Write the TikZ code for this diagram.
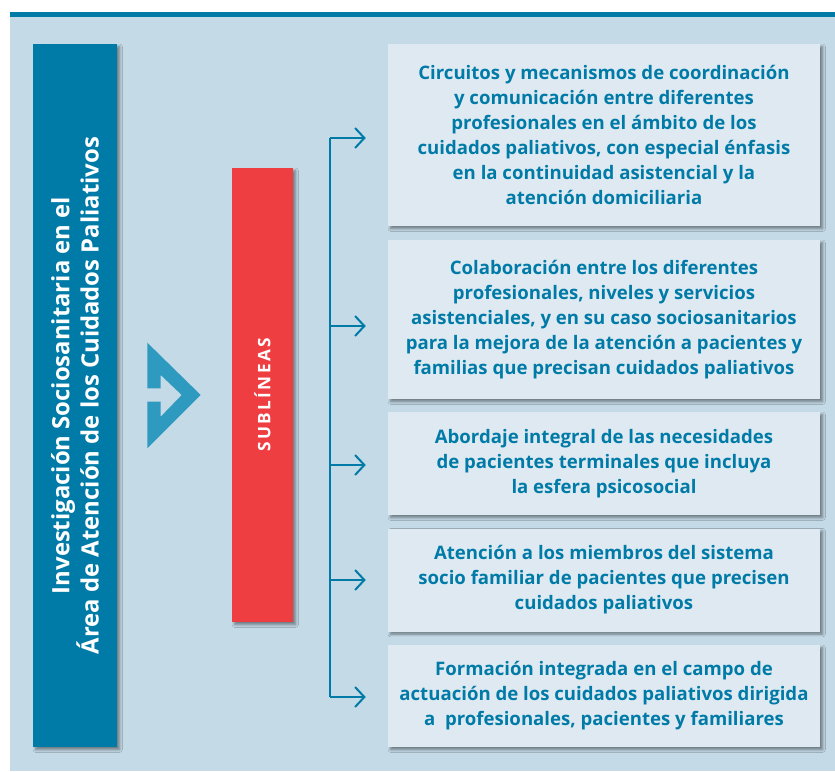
\documentclass[tikz,border=0pt]{standalone}
\usepackage{fontspec}
\setmainfont{Open Sans}
\usetikzlibrary{arrows.meta,shadows.blur}

\definecolor{deepteal}{RGB}{0,123,167}
\definecolor{panelblue}{RGB}{196,218,231}
\definecolor{paleblue}{RGB}{223,233,242}
\definecolor{subred}{RGB}{239,62,66}
\definecolor{chevblue}{RGB}{46,154,192}

\tikzset{
  linebox/.style={fill=paleblue, text=deepteal, align=center, inner sep=0pt,
    minimum width=324pt, font=\bfseries\fontsize{13.95}{18.75}\selectfont,
    blur shadow={shadow xshift=2pt, shadow yshift=-2pt, shadow blur steps=6, shadow blur radius=2pt, shadow opacity=45}},
  feed/.style={deepteal, line width=1.5pt, -{Straight Barb[length=7pt,width=15pt,line width=1.5pt]}, shorten >=16.5pt},
}

\begin{document}
\begin{tikzpicture}[x=0.75pt,y=0.75pt,yscale=-1,xscale=1]
\useasboundingbox (0,0) rectangle (835,771);

%Shape: Background panel
\fill [panelblue] (10,17) rectangle (835,771);
%Shape: Top rule
\fill [deepteal] (10,12) rectangle (835,17);

%Shape: Main area box
\node [rotate=90, fill=deepteal, text=white, align=center, inner sep=0pt,
  minimum width=527.25pt, minimum height=63pt,
  font=\bfseries\fontsize{17.9}{18.5}\selectfont,
  blur shadow={shadow xshift=2pt, shadow yshift=-2pt, shadow blur steps=6, shadow blur radius=2pt, shadow opacity=45}]
  (area) at (75,395.5) {Investigación Sociosanitaria en el\\Área de Atención de los Cuidados Paliativos};

%Shape: Chevron
\fill [chevblue] (147.3,342.7) -- (200.7,395) -- (147.3,448.3) -- (147.3,401.7) -- (160.7,401.7) -- (160.7,416.7) -- (181.7,395) -- (160.7,375) -- (160.7,388.3) -- (147.3,388.3) -- cycle ;

%Shape: Sublineas bar
\node [rotate=90, fill=subred, text=white, inner sep=0pt,
  minimum width=340.5pt, minimum height=45.75pt,
  font=\bfseries\fontsize{12.9}{14}\selectfont\addfontfeature{LetterSpace=14},
  blur shadow={shadow xshift=2pt, shadow yshift=-2pt, shadow blur steps=6, shadow blur radius=2pt, shadow opacity=45}]
  (sub) at (262.5,395) {SUBLÍNEAS};

% Text Nodes
\node [linebox, minimum height=136.5pt] (circ) at (604,135) {Circuitos y mecanismos de coordinación\\y comunicación entre diferentes\\profesionales en el ámbito de los\\cuidados paliativos, con especial énfasis\\en la continuidad asistencial y la\\atención domiciliaria};
\node [linebox, minimum height=119.25pt] (colab) at (604,319.5) {Colaboración entre los diferentes\\profesionales, niveles y servicios\\asistenciales, y en su caso sociosanitarios\\para la mejora de la atención a pacientes y\\familias que precisan cuidados paliativos};
\node [linebox, minimum height=77.25pt] (abord) at (604,463.5) {Abordaje integral de las necesidades\\de pacientes terminales que incluya\\la esfera psicosocial};
\node [linebox, minimum height=77.25pt] (atenc) at (604,580) {Atención a los miembros del sistema\\socio familiar de pacientes que precisen\\cuidados paliativos};
\node [linebox, minimum height=76.5pt] (forma) at (604,696) {Formación integrada en el campo de\\actuación de los cuidados paliativos dirigida\\a\ \ profesionales, pacientes y familiares};

%Straight Lines: spine
\coordinate (s1) at (330,138);
\coordinate (s2) at (330,326);
\coordinate (s3) at (330,465);
\coordinate (s4) at (330,580);
\coordinate (s5) at (330,697);
\draw [deepteal, line width=1.5pt] (s1) -- (s5) ;

\draw [feed] (s1) -- (s1 -| circ.west) ;
\draw [feed] (s2) -- (s2 -| colab.west) ;
\draw [feed] (s3) -- (s3 -| abord.west) ;
\draw [feed] (s4) -- (s4 -| atenc.west) ;
\draw [feed] (s5) -- (s5 -| forma.west) ;

\end{tikzpicture}
\end{document}
